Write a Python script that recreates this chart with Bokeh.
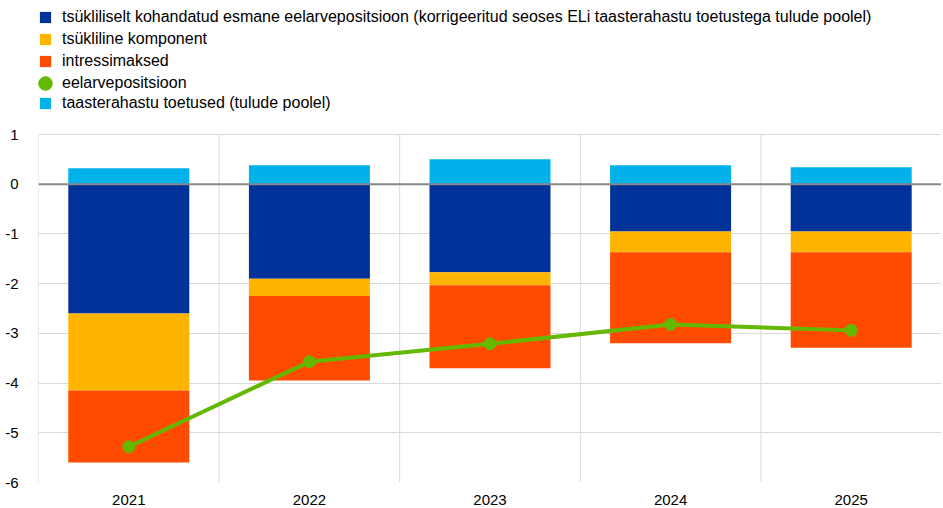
from bokeh.plotting import figure
from bokeh.models import (ColumnDataSource, Legend, LegendItem, FixedTicker, Span, Range1d)
from bokeh.embed import file_html
from bokeh.resources import INLINE
import numpy as np

years = ["2021", "2022", "2023", "2024", "2025"]
cyc_adj_primary = [-2.60, -1.90, -1.77, -0.95, -0.95]
cyclical = [-1.55, -0.35, -0.26, -0.42, -0.42]
interest = [-1.45, -1.70, -1.67, -1.83, -1.92]
budget_balance = [-5.28, -3.57, -3.21, -2.82, -2.94]
rrf_grants = [0.32, 0.38, 0.50, 0.38, 0.34]
y_ticks = [1, 0, -1, -2, -3, -4, -5, -6]

labels = [
    "tsükliliselt kohandatud esmane eelarvepositsioon (korrigeeritud seoses ELi taasterahastu toetustega tulude poolel)",
    "tsükliline komponent",
    "intressimaksed",
    "eelarvepositsioon",
    "taasterahastu toetused (tulude poolel)",
]
colors = ["#003299", "#FFB400", "#FF4B00", "#65B800", "#00B1EA"]
FONT = "Liberation Sans"

PLOT_PX = 348          # pixel height of the data area (-6..1)
TOP_PX = 134           # legend area above the data area
FH = PLOT_PX + TOP_PX  # frame height
ymin, ymax = min(y_ticks), max(y_ticks)
y_end = ymax + TOP_PX * (ymax - ymin) / PLOT_PX

xpos = list(np.arange(1, len(years) + 1))
src = ColumnDataSource(dict(x=xpos, navy=cyc_adj_primary, yel=cyclical, ora=interest,
                            bal=budget_balance, rrf=rrf_grants))
bounds = [x - 0.5 for x in xpos]
vsrc = ColumnDataSource(dict(x=bounds, y0=[ymin] * len(bounds), y1=[ymax] * len(bounds)))

p = figure(frame_width=903, frame_height=FH, output_backend="svg", toolbar_location=None,
           x_range=Range1d(0.5, len(years) + 0.5), y_range=Range1d(ymin, y_end),
           min_border_left=38, min_border_right=0, min_border_top=0, min_border_bottom=0)

# vertical separators between categories (drawn first, under bars)
p.segment(x0="x", x1="x", y0="y0", y1="y1", source=vsrc, line_color="#d9d9d9", line_width=1)

stack = p.vbar_stack(["navy", "yel", "ora"], x="x", width=0.67, source=src,
                     color=colors[:3], line_width=0)
rrf = p.vbar(x="x", top="rrf", bottom=0, width=0.67, source=src, color=colors[4], line_width=0)

zero = Span(location=0, dimension="width", line_color="#888888", line_width=2)
p.add_layout(zero)

p.line(x="x", y="bal", source=src, line_color=colors[3], line_width=4)
dots = p.scatter(x="x", y="bal", source=src, size=12, color=colors[3])

common = dict(orientation="vertical", padding=0, margin=0, spacing=4,
              label_text_font=FONT, label_text_font_size="16px", label_text_color="#000000",
              border_line_color=None, background_fill_alpha=0)

leg_a = Legend(items=[LegendItem(label=labels[i], renderers=[stack[i]]) for i in range(3)],
               location=(0, FH - 70), glyph_width=14, glyph_height=14, label_height=14,
               label_standoff=10, **common)
leg_b = Legend(items=[LegendItem(label=labels[3], renderers=[dots])],
               location=(-10, FH - 100), glyph_width=34, glyph_height=34, label_height=14,
               label_standoff=0, **common)
leg_c = Legend(items=[LegendItem(label=labels[4], renderers=[rrf])],
               location=(0, FH - 112), glyph_width=14, glyph_height=14, label_height=14,
               label_standoff=10, **common)
for lg in (leg_a, leg_b, leg_c):
    p.add_layout(lg, "center")

p.outline_line_color = None
p.yaxis.ticker = FixedTicker(ticks=y_ticks)
p.yaxis.major_label_overrides = {t: str(t) for t in y_ticks}
p.xaxis.ticker = FixedTicker(ticks=xpos)
p.xaxis.major_label_overrides = {int(x): y for x, y in zip(xpos, years)}
for ax in (p.xaxis[0], p.yaxis[0]):
    ax.axis_line_color = None
    ax.major_tick_line_color = None
    ax.minor_tick_line_color = None
    ax.major_label_text_font = FONT
    ax.major_label_text_font_size = "15px"
    ax.major_label_text_color = "#000000"
p.yaxis.major_label_standoff = 14
p.xaxis.major_label_standoff = 6

p.ygrid.grid_line_color = "#d9d9d9"
p.ygrid.grid_line_width = 1
p.xgrid.grid_line_color = None

open("out.html", "w").write(file_html(p, INLINE))
